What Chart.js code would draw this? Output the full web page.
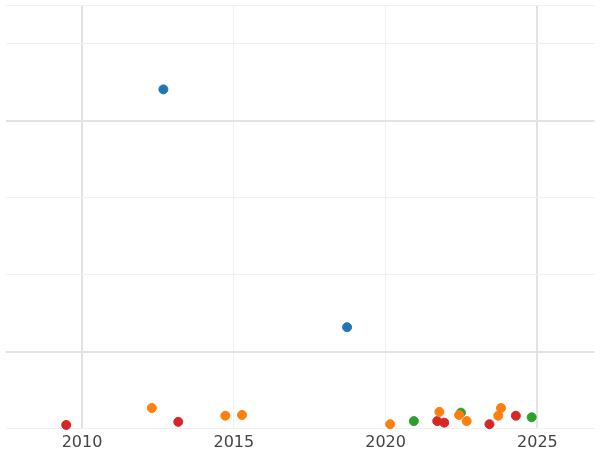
<!DOCTYPE html>
<html>
<head>
<meta charset="utf-8">
<script src="https://cdn.jsdelivr.net/npm/chart.js@4"></script>
<style>
  body { margin: 0; background: #fff; }
  #wrap { width: 600px; height: 450px; }
</style>
</head>
<body>
<div id="wrap"><canvas id="myChart"></canvas></div>
<script>
const blueYears = [2012.68, 2018.73]
const blueValues = [4.41, 1.32]
const orangeYears = [2012.3, 2014.72, 2015.27, 2020.15, 2021.77, 2022.42, 2022.67, 2023.71, 2023.8]
const orangeValues = [0.27, 0.17, 0.18, 0.06, 0.22, 0.18, 0.10, 0.17, 0.27]
const greenYears = [2020.93, 2022.48, 2024.81]
const greenValues = [0.10, 0.21, 0.15]
const redYears = [2009.48, 2013.17, 2021.70, 2021.93, 2023.42, 2024.29]
const redValues = [0.05, 0.09, 0.10, 0.08, 0.06, 0.17]
const xTicks = [2010, 2015, 2020, 2025]

function pts(xs, ys) {
  return xs.map((x, i) => ({ x: x, y: ys[i] }))
}

function serie(xs, ys, color) {
  return {
    data: pts(xs, ys),
    backgroundColor: color,
    borderColor: color,
    pointRadius: 4.5,
    pointHoverRadius: 4.5,
    clip: false,
  }
}

const ctx = document.getElementById("myChart")
new Chart(ctx, {
  type: "scatter",
  data: {
    datasets: [
      serie(blueYears, blueValues, "#1f77b4"),
      serie(orangeYears, orangeValues, "#ff7f0e"),
      serie(greenYears, greenValues, "#2ca02c"),
      serie(redYears, redValues, "#d62728"),
    ],
  },
  options: {
    responsive: true,
    maintainAspectRatio: false,
    animation: false,
    layout: { padding: { left: -6, right: -6, top: -6, bottom: -6 } },
    plugins: { legend: { display: false }, tooltip: { enabled: false } },
    scales: {
      x: {
        type: "linear",
        min: 2007.48,
        max: 2026.88,
        afterBuildTicks: (axis) => { axis.ticks = xTicks.map(v => ({ value: v })) },
        border: { display: false },
        grid: {
          color: (c) => (c.tick && (c.tick.value === 2010 || c.tick.value === 2025)) ? "#e3e3e3" : "#f0f0f0",
          lineWidth: (c) => (c.tick && (c.tick.value === 2010 || c.tick.value === 2025)) ? 2 : 1,
          drawTicks: false,
        },
        ticks: {
          color: "#444",
          font: { family: "DejaVu Sans", size: 16 },
          padding: 4,
          callback: (v) => String(v),
        },
      },
      y: {
        min: 0,
        max: 5.5,
        border: { display: false },
        ticks: { display: false, stepSize: 1 },
        grid: {
          color: (c) => (c.tick && (c.tick.value === 1 || c.tick.value === 4)) ? "#e3e3e3" : "#f0f0f0",
          lineWidth: (c) => (c.tick && (c.tick.value === 1 || c.tick.value === 4)) ? 2 : 1,
          drawTicks: false,
        },
      },
    },
  },
})
</script>
</body>
</html>
